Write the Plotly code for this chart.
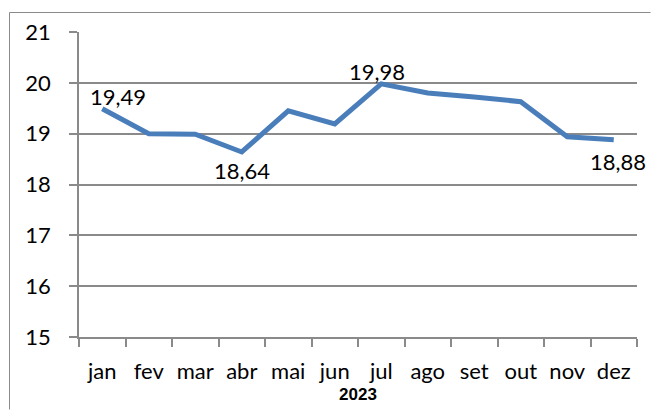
import plotly.graph_objects as go

months = ["jan", "fev", "mar", "abr", "mai", "jun", "jul", "ago", "set", "out", "nov", "dez"]
values = [19.49, 19.00, 18.99, 18.64, 19.45, 19.19, 19.98, 19.80, 19.72, 19.63, 18.94, 18.88]
label_months = ["jan", "jul", "abr", "dez"]
label_texts = ["19,49", "19,98", "18,64", "18,88"]
label_pos = ["above", "above", "below", "below"]
y_ticks = [15, 16, 17, 18, 19, 20, 21]
x_title = "2023"

FONT = "Lato, Roboto, sans-serif"
GRID = "#8a8a8a"
FS = 22

fig = go.Figure()
fig.add_trace(go.Scatter(
    x=months, y=values, mode="lines",
    line=dict(color="#4a7ebb", width=5),
    hoverinfo="skip", showlegend=False,
))

val_map = dict(zip(months, values))
for m, t, p in zip(label_months, label_texts, label_pos):
    fig.add_annotation(
        x=m, y=val_map[m], text=t, showarrow=False,
        yshift=12 if p == "above" else (-19 if m == "abr" else -22),
        xshift=16 if m == "jan" else (4 if m == "dez" else -4 if m == "jul" else 0),
        font=dict(family=FONT, size=FS, color="#000000"),
    )

W, H = 651, 410
ml, mr, mt, mb = 79, 14, 32, 73
pw, ph = W - ml - mr, H - mt - mb
fx0 = (9.5 - ml) / pw
fx1 = (W - 0.5 - ml) / pw
fy1 = (H - 12.5 - mb) / ph
fy0 = -(mb - 0.5) / ph
# outer chart frame: left and top edges (right/bottom lie outside the picture)
fig.add_shape(type="line", xref="paper", yref="paper", x0=fx0, x1=fx0, y0=fy0, y1=fy1,
              line=dict(color=GRID, width=1), layer="below")
fig.add_shape(type="line", xref="paper", yref="paper", x0=fx0, x1=fx1, y0=fy1, y1=fy1,
              line=dict(color=GRID, width=1), layer="below")

fig.update_layout(
    width=W, height=H,
    margin=dict(l=ml, r=mr, t=mt, b=mb, autoexpand=False),
    paper_bgcolor="white", plot_bgcolor="white",
    font=dict(family=FONT, size=FS, color="#000000"),
    xaxis=dict(
        type="category", tickson="boundaries", tickangle=0, automargin=False,
        showgrid=False, showline=True, linecolor=GRID, linewidth=1.5,
        ticks="outside", ticklen=8, tickcolor=GRID, tickwidth=1.5,
        tickfont=dict(family=FONT, size=FS),
        ticklabelstandoff=14,
        title=dict(text="<b>" + x_title + "</b>", font=dict(family="Liberation Sans, Arial, sans-serif", size=17), standoff=5),
        range=[-0.5, 11.5],
    ),
    yaxis=dict(
        range=[15, 21], tickvals=y_ticks, ticktext=[str(v) for v in y_ticks],
        automargin=False,
        showgrid=True, gridcolor=GRID, gridwidth=1.5,
        showline=True, linecolor=GRID, linewidth=1.5,
        ticks="outside", ticklen=8, tickcolor=GRID, tickwidth=1.5,
        tickfont=dict(family=FONT, size=FS),
        ticklabelstandoff=14,
        zeroline=False,
    ),
)

fig.write_html("out.html", config={"displayModeBar": False},
               post_script="document.body.style.margin='0px';")
